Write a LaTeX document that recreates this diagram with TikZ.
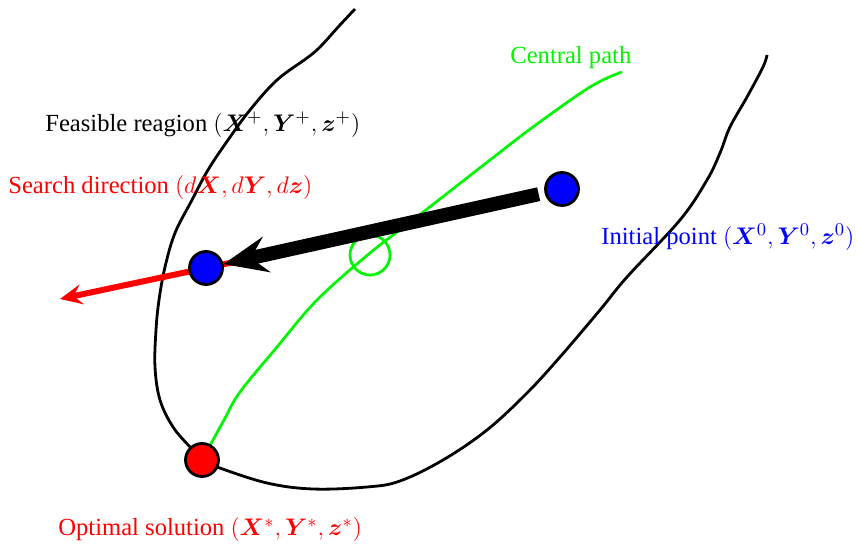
\documentclass[tikz,border=0pt]{standalone}
\usepackage{fontspec}
\setmainfont{Liberation Serif}
\usepackage{bm}
\usetikzlibrary{arrows.meta,backgrounds,calc}
\definecolor{pgreen}{RGB}{0,245,0}
\definecolor{pred}{RGB}{255,0,0}
\definecolor{pblue}{RGB}{0,0,255}
\begin{document}
\begin{tikzpicture}[x=0.5pt,y=-0.5pt,
  dot/.style={circle,draw=black,line width=1.4pt,minimum size=16.5pt,inner sep=0pt},
  lbl/.style={anchor=west,inner sep=0pt,font=\fontsize{12.3}{15}\selectfont},
  boundary/.style={line width=1.4pt,black},
  cpath/.style={line width=1.35pt,pgreen},
  newton/.style={line width=7pt,black,-{Stealth[length=22pt,width=18pt,inset=8pt]},shorten <=3pt},
  sdir/.style={line width=3pt,pred,-{Stealth[length=11pt,width=10pt,inset=4pt]}}]
\useasboundingbox (0,0) rectangle (857,544);
% points
\node[dot,fill=pblue] (I) at (562,189) {};
\node[dot,fill=pblue] (S) at (206,268) {};
\node[dot,fill=pred] (O) at (202,460) {};
\coordinate (D) at (60,299);
\begin{pgfonlayer}{background}
\draw[boundary] plot[smooth,tension=0.6] coordinates {(355,9) (340,25) (320,47) (307,58) (277,80) (250,110) (228,140) (208,170) (192,200) (175,233) (165,267) (159,300) (156,330) (155,367) (160,400) (173,427) (190,447) (202,460) (217,467) (267,483) (313,489) (367,487) (400,481) (443,460) (487,430) (527,393) (560,357) (600,310) (627,277) (680,220) (707,180) (720,153) (730,127) (747,97) (763,67) (767,55)};
\draw[cpath] plot[smooth,tension=0.6] coordinates {(O.center) (224,420) (240,392) (277,347) (317,300) (370,253) (413,220) (490,160) (533,127) (590,87) (622,72)};
\draw[cpath] (370,255) circle[radius=10pt];
\draw[sdir] ($(S.center)!-14pt!(D)$) -- (D);
\end{pgfonlayer}
\draw[newton] (I) -- (S);
% labels
\node[lbl,pgreen] (cp) at (510,58) {Central path};
\node[lbl,black] (fr) at (45,125) {Feasible reagion $(\bm{X}^{+},\bm{Y}^{+},\bm{z}^{+})$};
\node[lbl,pred] (sd) at (8,188) {Search direction $(d\bm{X},d\bm{Y},d\bm{z})$};
\node[lbl,pblue] (ip) at (601,237) {Initial point $(\bm{X}^{0},\bm{Y}^{0},\bm{z}^{0})$};
\node[lbl,pred] (os) at (58,530) {Optimal solution $(\bm{X}^{*},\bm{Y}^{*},\bm{z}^{*})$};
\end{tikzpicture}
\end{document}
